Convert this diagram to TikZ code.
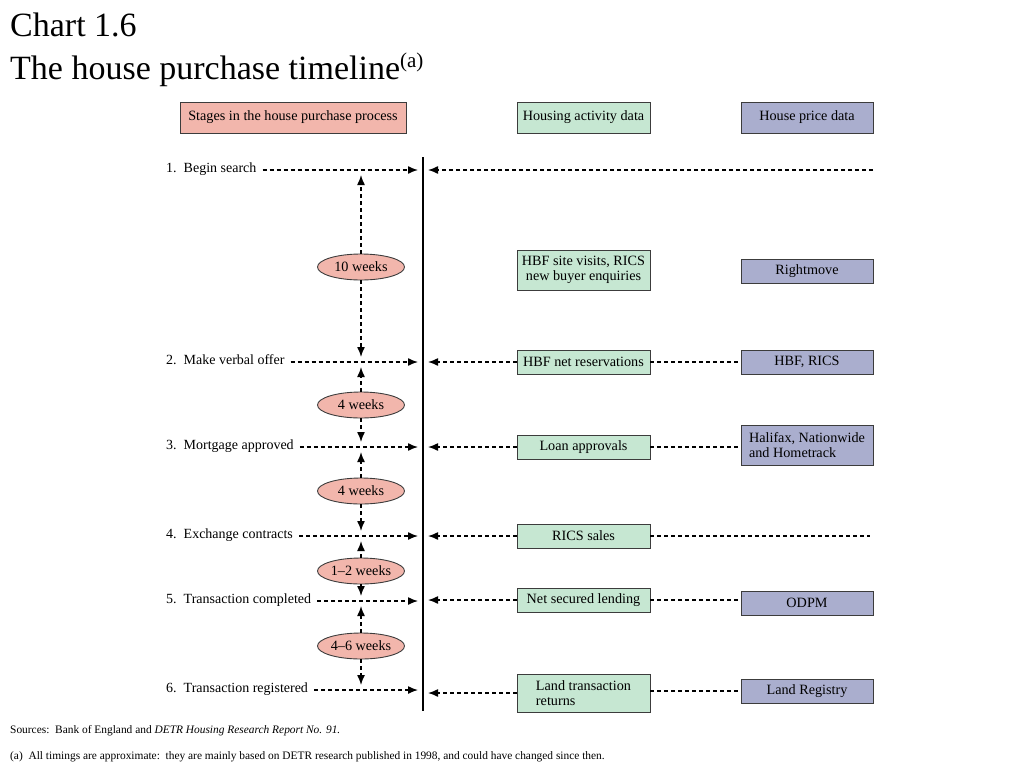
\documentclass[tikz,border=0pt]{standalone}
\usepackage{fontspec}
\setmainfont{Liberation Serif}
\usetikzlibrary{arrows.meta, shapes.geometric}

\definecolor{stagefill}{RGB}{242,182,172}
\definecolor{activityfill}{RGB}{198,231,210}
\definecolor{pricefill}{RGB}{170,174,206}
\definecolor{boxline}{RGB}{60,60,60}

\tikzset{
  databox/.style={draw=boxline, line width=0.9pt, minimum height=24pt, inner sep=2pt,
    font=\fontsize{14.2}{15.5}\selectfont},
  stagebox/.style={databox, fill=stagefill, minimum width=226pt, minimum height=31pt},
  actbox/.style={databox, fill=activityfill, minimum width=133pt},
  pricebox/.style={databox, fill=pricefill, minimum width=132pt},
  weeks/.style={ellipse, draw=boxline, line width=0.9pt, fill=stagefill, minimum width=87pt,
    minimum height=26pt, inner sep=0pt, font=\fontsize{14.2}{15.5}\selectfont},
  stagelabel/.style={anchor=base west, inner sep=0pt, font=\fontsize{14}{15}\selectfont},
  link/.style={line width=1.4pt, dash pattern=on 4pt off 3pt},
  feed/.style={link, -{Latex[length=10pt,width=8pt]}},
  note/.style={anchor=base west, inner sep=0pt, font=\fontsize{11.4}{12}\selectfont}
}

\begin{document}
\begin{tikzpicture}[x=1pt, y=-1pt]
\useasboundingbox (0,0) rectangle (1024,768);
% Title
\node[anchor=base west, inner sep=0pt, font=\fontsize{34}{40}\selectfont] (title1) at (10,37) {Chart 1.6};
\node[anchor=base west, inner sep=0pt, font=\fontsize{34}{40}\selectfont] (title2) at (10,79)
  {The house purchase timeline\raisebox{12pt}{\fontsize{21}{21}\selectfont(a)}};
% Column headers
\node[stagebox] (h-stage) at (293,117.5) {Stages in the house purchase process};
\node[actbox, minimum height=31pt] (h-act) at (583.5,117.5) {Housing activity data};
\node[pricebox, minimum height=31pt] (h-price) at (807,117.5) {House price data};
% Rows and the spine
\coordinate (spinetop) at (423,157);
\coordinate (spinebot) at (423,711);
\coordinate (r1) at (0,170);
\coordinate (r2) at (0,362);
\coordinate (r3) at (0,447);
\coordinate (r4) at (0,536);
\coordinate (r5) at (0,601);
\coordinate (r6) at (0,690);
\draw[line width=1.8pt] (spinetop) -- (spinebot);
% Stage labels
\node[stagelabel] (s1) at (166,172) {1.\ \ Begin search};
\node[stagelabel] (s2) at (166,364) {2.\ \ Make verbal offer};
\node[stagelabel] (s3) at (166,449) {3.\ \ Mortgage approved};
\node[stagelabel] (s4) at (166,538) {4.\ \ Exchange contracts};
\node[stagelabel] (s5) at (166,603) {5.\ \ Transaction completed};
\node[stagelabel] (s6) at (166,692) {6.\ \ Transaction registered};
\foreach \i in {1,...,6}
  \draw[feed] ([xshift=6pt]s\i.east |- r\i) -- ([xshift=-5pt]r\i -| spinetop);
% Timings
\node[weeks] (w1) at (361,267) {10 weeks};
\node[weeks] (w2) at (361,405) {4 weeks};
\node[weeks] (w3) at (361,491) {4 weeks};
\node[weeks] (w4) at (361,571) {1--2 weeks};
\node[weeks] (w5) at (361,646) {4--6 weeks};
\foreach \i/\up/\down in {1/r1/r2, 2/r2/r3, 3/r3/r4, 4/r4/r5, 5/r5/r6} {
  \draw[feed] (w\i.north) -- ([yshift=-5pt]\up -| w\i);
  \draw[feed] (w\i.south) -- ([yshift=5pt]\down -| w\i);
}
% Housing activity data
\node[actbox, minimum height=40pt, align=center] (a1) at (583.5,270) {HBF site visits, RICS\\new buyer enquiries};
\node[actbox] (a2) at (583.5,362) {HBF net reservations};
\node[actbox] (a3) at (583.5,447) {Loan approvals};
\node[actbox] (a4) at (583.5,536) {RICS sales};
\node[actbox] (a5) at (583.5,600) {Net secured lending};
\node[actbox, minimum height=38pt, align=left] (a6) at (583.5,693) {Land transaction\\returns};
% House price data
\node[pricebox] (p1) at (807,271) {Rightmove};
\node[pricebox] (p2) at (807,362) {HBF, RICS};
\node[pricebox, minimum height=40pt, align=left] (p3) at (807,445) {Halifax, Nationwide\\and Hometrack};
\node[pricebox] (p5) at (807,603) {ODPM};
\node[pricebox] (p6) at (807,691) {Land Registry};
% Feeds into the spine
\coordinate (e1) at (873,170);
\coordinate (e4) at (870,536);
\draw[feed] (e1) -- ([xshift=5pt]r1 -| spinetop);
\foreach \i in {2,...,6}
  \draw[feed] (a\i.west) -- ([xshift=5pt]a\i.west -| spinetop);
\draw[link] (a2.east) -- (p2.west);
\draw[link] (a3.east) -- (a3.east -| p3.west);
\draw[link] (a4.east) -- (e4);
\draw[link] (a5.east) -- (a5.east -| p5.west);
\draw[link] (a6.east |- p6) -- (p6.west);
% Notes
\node[note] (sources) at (10,733) {Sources:\ \ Bank of England and \textit{DETR Housing Research Report No. 91.}};
\node[note] (foot) at (10,759) {(a)\ \ All timings are approximate:\ \ they are mainly based on DETR research published in 1998, and could have changed since then.};
\end{tikzpicture}
\end{document}
